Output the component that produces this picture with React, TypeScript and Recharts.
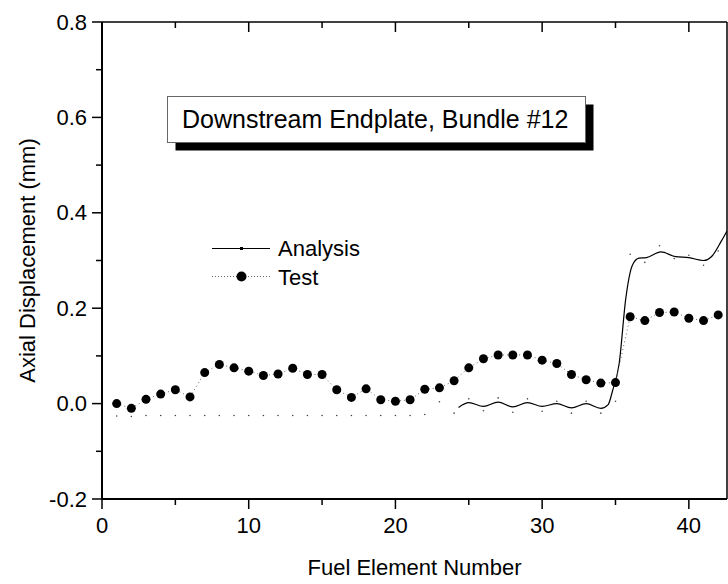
import { LineChart, Line, XAxis, YAxis } from "recharts";

const FONT = "'Liberation Sans', Arial, Helvetica, sans-serif";

// Test: measured points, one per fuel element
const testElements = [1, 2, 3, 4, 5, 6, 7, 8, 9, 10, 11, 12, 13, 14, 15, 16, 17, 18, 19, 20, 21, 22, 23, 24, 25, 26, 27, 28, 29, 30, 31, 32, 33, 34, 35, 36, 37, 38, 39, 40, 41, 42];
const testValues = [0.0, -0.01, 0.009, 0.02, 0.029, 0.014, 0.065, 0.082, 0.075, 0.068, 0.059, 0.062, 0.074, 0.061, 0.061, 0.029, 0.013, 0.031, 0.008, 0.005, 0.008, 0.03, 0.033, 0.048, 0.075, 0.094, 0.102, 0.102, 0.102, 0.091, 0.084, 0.061, 0.05, 0.043, 0.044, 0.182, 0.174, 0.191, 0.192, 0.179, 0.174, 0.186];

// Analysis: small markers at each element
const analysisPtValues = [-0.026, -0.027, -0.025, -0.025, -0.025, -0.025, -0.025, -0.025, -0.025, -0.025, -0.025, -0.025, -0.025, -0.025, -0.025, -0.025, -0.025, -0.025, -0.025, -0.025, -0.025, -0.023, 0.004, -0.02, 0.01, -0.015, 0.012, -0.018, 0.01, -0.016, 0.005, -0.02, 0.005, -0.02, 0.005, 0.313, 0.296, 0.331, 0.304, 0.311, 0.29, 0.32];

// Analysis: smooth curve
const analysisX = [24.3, 25, 26, 27, 28, 29, 30, 31, 32, 33, 34, 34.5, 34.8, 35.25, 35.7, 36.15, 36.6, 37.1, 38.1, 39.1, 40, 41, 41.6, 42.2, 42.6];
const analysisY = [-0.008, 0.002, -0.006, 0.003, -0.007, 0.002, -0.006, 0.0, -0.009, 0.0, -0.01, -0.002, 0.027, 0.084, 0.22, 0.29, 0.305, 0.306, 0.318, 0.308, 0.306, 0.3, 0.31, 0.34, 0.362];

const xTicks = [0, 5, 10, 15, 20, 25, 30, 35, 40];
const yTicks = [-0.2, -0.1, 0, 0.1, 0.2, 0.3, 0.4, 0.5, 0.6, 0.7, 0.8];

const testData = testElements.map((x, i) => ({ x, y: testValues[i] }));
const analysisPts = testElements.map((x, i) => ({ x, y: analysisPtValues[i] }));
const analysisData = analysisX.map((x, i) => ({ x, y: analysisY[i] }));

const isMajorX = (v: number) => v % 10 === 0;
const isMajorY = (v: number) => Math.round(v * 10) % 2 === 0;

const BottomTick = (p: any) => {
  const v = p.payload.value;
  const major = isMajorX(v);
  return (
    <g>
      <line x1={p.x} x2={p.x} y1={p.y} y2={p.y + (major ? 10 : 6)} stroke="#000" strokeWidth={1.5} />
      {major && (
        <text x={p.x} y={p.y + 34} textAnchor="middle" fontSize={22} fontFamily={FONT} fill="#000">
          {v}
        </text>
      )}
    </g>
  );
};

const TopTick = (p: any) => {
  const major = isMajorX(p.payload.value);
  return <line x1={p.x} x2={p.x} y1={p.y} y2={p.y + (major ? 10 : 6)} stroke="#000" strokeWidth={1.5} />;
};

const LeftTick = (p: any) => {
  const v = p.payload.value;
  const major = isMajorY(v);
  return (
    <g>
      <line x1={p.x - (major ? 10 : 6)} x2={p.x} y1={p.y} y2={p.y} stroke="#000" strokeWidth={1.5} />
      {major && (
        <text x={p.x - 15} y={p.y + 7.5} textAnchor="end" fontSize={22} fontFamily={FONT} fill="#000">
          {v.toFixed(1)}
        </text>
      )}
    </g>
  );
};

const RightTick = (p: any) => {
  const major = isMajorY(p.payload.value);
  return <line x1={p.x - (major ? 10 : 6)} x2={p.x} y1={p.y} y2={p.y} stroke="#000" strokeWidth={1.5} />;
};

export default function App() {
  return (
    <div style={{ position: "absolute", left: 0, top: 0, width: 728, height: 584, background: "#fff" }}>
      <LineChart width={728} height={584} margin={{ top: 0, right: 0, left: 0, bottom: 0 }}>
        <XAxis
          xAxisId="bottom"
          type="number"
          dataKey="x"
          domain={[0, 42.6]}
          allowDataOverflow
          ticks={xTicks}
          interval={0}
          height={85}
          tickSize={0}
          tickMargin={0}
          tickLine={false}
          tick={BottomTick}
          axisLine={{ stroke: "#000", strokeWidth: 2 }}
        />
        <XAxis
          xAxisId="top"
          orientation="top"
          type="number"
          dataKey="x"
          domain={[0, 42.6]}
          allowDataOverflow
          ticks={xTicks}
          interval={0}
          height={22}
          tickSize={0}
          tickMargin={0}
          tickLine={false}
          tick={TopTick}
          axisLine={{ stroke: "#000", strokeWidth: 1.5 }}
        />
        <YAxis
          yAxisId="left"
          type="number"
          domain={[-0.2, 0.8]}
          ticks={yTicks}
          interval={0}
          width={102}
          tickSize={0}
          tickMargin={0}
          tickLine={false}
          tick={LeftTick}
          axisLine={{ stroke: "#000", strokeWidth: 2 }}
        />
        <YAxis
          yAxisId="right"
          orientation="right"
          type="number"
          domain={[-0.2, 0.8]}
          ticks={yTicks}
          interval={0}
          width={1}
          tickSize={0}
          tickMargin={0}
          tickLine={false}
          tick={RightTick}
          axisLine={{ stroke: "#000", strokeWidth: 1.5 }}
        />
        <Line
          xAxisId="bottom"
          yAxisId="left"
          data={analysisPts}
          dataKey="y"
          stroke="none"
          dot={{ r: 0.8, fill: "#444", stroke: "none" }}
          isAnimationActive={false}
        />
        <Line
          xAxisId="bottom"
          yAxisId="left"
          data={analysisData}
          dataKey="y"
          type="monotone"
          stroke="#000"
          strokeWidth={1.2}
          dot={false}
          isAnimationActive={false}
        />
        <Line
          xAxisId="bottom"
          yAxisId="left"
          data={testData}
          dataKey="y"
          stroke="#666"
          strokeWidth={1}
          strokeDasharray="1 3"
          dot={{ r: 4.5, fill: "#000", stroke: "none" }}
          isAnimationActive={false}
        />
      </LineChart>
      <svg
        width={728}
        height={584}
        style={{ position: "absolute", left: 0, top: 0, pointerEvents: "none" }}
      >
        <rect x={175.5} y={104.5} width={418} height={46} fill="#000" />
        <rect x={167.5} y={96.5} width={418} height={46} fill="#fff" stroke="#666" strokeWidth={1} />
        <text x={182} y={128} fontSize={25} fontFamily={FONT} fill="#000">
          Downstream Endplate, Bundle #12
        </text>

        <line x1={212} x2={270} y1={248.5} y2={248.5} stroke="#000" strokeWidth={1.2} />
        <rect x={240} y={247} width={3} height={3} fill="#000" />
        <text x={278} y={256} fontSize={22} fontFamily={FONT} fill="#000">Analysis</text>
        <line x1={212} x2={270} y1={276.5} y2={276.5} stroke="#666" strokeWidth={1} strokeDasharray="1 2" />
        <circle cx={241.5} cy={276.5} r={5} fill="#000" />
        <text x={278} y={285} fontSize={22} fontFamily={FONT} fill="#000">Test</text>

        <text
          x={35}
          y={260.5}
          transform="rotate(-90 35 260.5)"
          textAnchor="middle"
          fontSize={22}
          fontFamily={FONT}
          fill="#000"
        >
          Axial Displacement (mm)
        </text>
        <text x={414.5} y={575} textAnchor="middle" fontSize={22} fontFamily={FONT} fill="#000">
          Fuel Element Number
        </text>
      </svg>
    </div>
  );
}
